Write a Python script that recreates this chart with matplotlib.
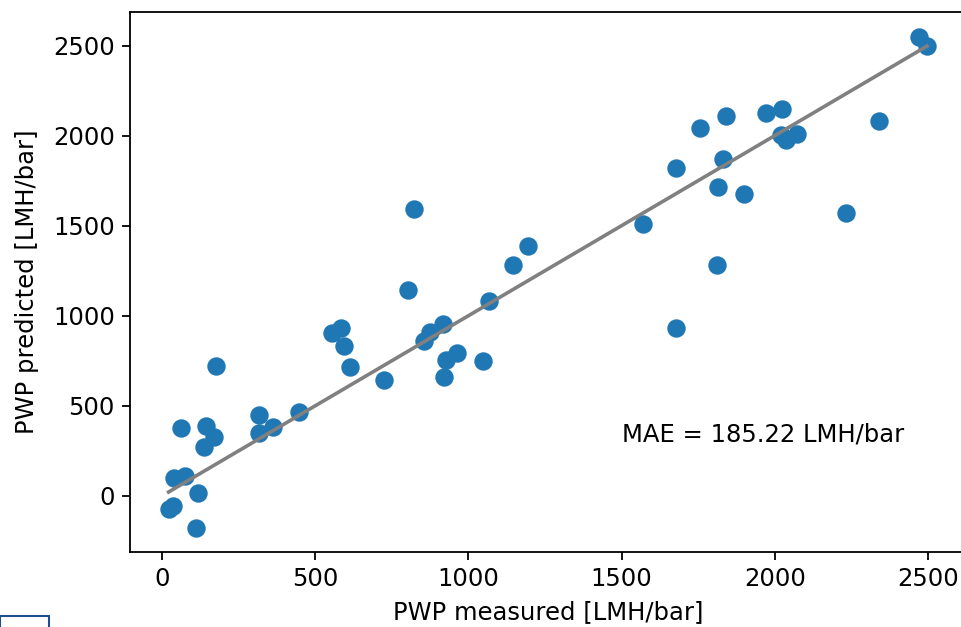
import numpy as np
import matplotlib
matplotlib.use('Agg')
import matplotlib.pyplot as plt
from matplotlib.patches import Rectangle

# PWP values [LMH/bar]
pwp_measured = [175, 64, 145, 169, 139, 318, 316, 363, 449, 41,
                77, 117, 22, 35, 111, 555, 585, 593, 615, 822,
                803, 724, 918, 876, 855, 963, 928, 922, 1048, 1067,
                1146, 1194, 1570, 1677, 1757, 1842, 1830, 1814, 1901, 1812,
                1677, 1971, 2025, 2019, 2038, 2071, 2340, 2233, 2470, 2497]
pwp_predicted = [719, 377, 388, 325, 270, 451, 347, 381, 467, 101,
                 113, 18, -72, -55, -179, 902, 933, 833, 713, 1595,
                 1142, 641, 953, 911, 859, 795, 754, 658, 748, 1083,
                 1280, 1386, 1508, 1820, 2044, 2108, 1872, 1713, 1678, 1284,
                 933, 2125, 2147, 2005, 1977, 2010, 2080, 1570, 2550, 2500]
mae_text = 'MAE = 185.22 LMH/bar'

fs = 17.5
fig = plt.figure(figsize=(9.61, 6.27), dpi=100)
ax = fig.add_axes([130/961, 75/627, (966-130)/961, (552-12)/627])

ax.scatter(pwp_measured, pwp_predicted, s=150, color='tab:blue', zorder=2)
lo, hi = min(pwp_measured), max(pwp_measured)
ax.plot([lo, hi], [lo, hi], color='grey', linewidth=2.6, zorder=3)
ax.set_xlim(-104, 2624)
ax.set_ylim(-311, 2686)

ax.text(1500, 300, mae_text, fontsize=fs)
ax.set_xlabel('PWP measured [LMH/bar]', fontsize=fs, labelpad=6)
ax.set_ylabel('PWP predicted [LMH/bar]', fontsize=fs, labelpad=10)
ax.tick_params(labelsize=fs, length=6, width=1.3, pad=5)
for sp in ax.spines.values():
    sp.set_linewidth(1.3)
ax.spines['right'].set_visible(False)  # lies just past the right edge of the picture

ax.set_xticks([0, 500, 1000, 1500, 2000, 2500])
ax.set_yticks([0, 500, 1000, 1500, 2000, 2500])

# small box at the lower-left corner of the screenshot
fig.patches.append(Rectangle((0, -0.02), 49/961, 11/627 + 0.02, transform=fig.transFigure,
                             fill=False, edgecolor='#1f4e8c', linewidth=1.5))

fig.savefig('out.png', dpi=100)
